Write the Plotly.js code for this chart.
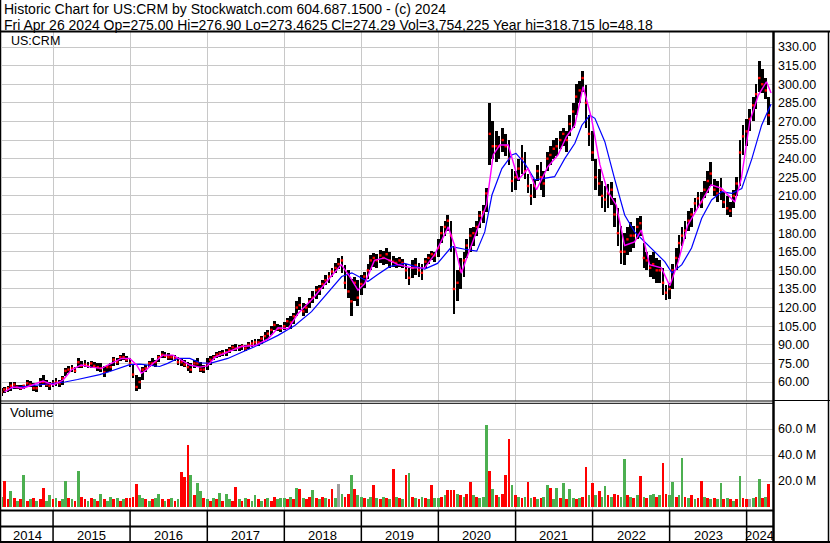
<!DOCTYPE html>
<html><head><meta charset="utf-8">
<script src="https://cdn.plot.ly/plotly-3.0.1.min.js"></script>
<style>html,body{margin:0;padding:0;background:#fff;}#chart{width:830px;height:543px;}</style>
</head><body><div id="chart"></div>
<script>
// ---- DATA ----
const dates = [
"2014-05-01","2014-05-15","2014-06-01","2014-06-15","2014-07-01","2014-07-15","2014-08-01","2014-08-15","2014-09-01","2014-09-15","2014-10-01","2014-10-15","2014-11-01","2014-11-15","2014-12-01","2014-12-15",
"2015-01-01","2015-01-15","2015-02-01","2015-02-15","2015-03-01","2015-03-15","2015-04-01","2015-04-15","2015-05-01","2015-05-15","2015-06-01","2015-06-15","2015-07-01","2015-07-15","2015-08-01","2015-08-15","2015-09-01","2015-09-15","2015-10-01","2015-10-15","2015-11-01","2015-11-15","2015-12-01","2015-12-15",
"2016-01-01","2016-01-15","2016-02-01","2016-02-15","2016-03-01","2016-03-15","2016-04-01","2016-04-15","2016-05-01","2016-05-15","2016-06-01","2016-06-15","2016-07-01","2016-07-15","2016-08-01","2016-08-15","2016-09-01","2016-09-15","2016-10-01","2016-10-15","2016-11-01","2016-11-15","2016-12-01","2016-12-15",
"2017-01-01","2017-01-15","2017-02-01","2017-02-15","2017-03-01","2017-03-15","2017-04-01","2017-04-15","2017-05-01","2017-05-15","2017-06-01","2017-06-15","2017-07-01","2017-07-15","2017-08-01","2017-08-15","2017-09-01","2017-09-15","2017-10-01","2017-10-15","2017-11-01","2017-11-15","2017-12-01","2017-12-15",
"2018-01-01","2018-01-15","2018-02-01","2018-02-15","2018-03-01","2018-03-15","2018-04-01","2018-04-15","2018-05-01","2018-05-15","2018-06-01","2018-06-15","2018-07-01","2018-07-15","2018-08-01","2018-08-15","2018-09-01","2018-09-15","2018-10-01","2018-10-15","2018-11-01","2018-11-15","2018-12-01","2018-12-15",
"2019-01-01","2019-01-15","2019-02-01","2019-02-15","2019-03-01","2019-03-15","2019-04-01","2019-04-15","2019-05-01","2019-05-15","2019-06-01","2019-06-15","2019-07-01","2019-07-15","2019-08-01","2019-08-15","2019-09-01","2019-09-15","2019-10-01","2019-10-15","2019-11-01","2019-11-15","2019-12-01","2019-12-15",
"2020-01-01","2020-01-15","2020-02-01","2020-02-15","2020-03-01","2020-03-15","2020-04-01","2020-04-15","2020-05-01","2020-05-15","2020-06-01","2020-06-15","2020-07-01","2020-07-15","2020-08-01","2020-08-15","2020-09-01","2020-09-15","2020-10-01","2020-10-15","2020-11-01","2020-11-15","2020-12-01","2020-12-15",
"2021-01-01","2021-01-15","2021-02-01","2021-02-15","2021-03-01","2021-03-15","2021-04-01","2021-04-15","2021-05-01","2021-05-15","2021-06-01","2021-06-15","2021-07-01","2021-07-15","2021-08-01","2021-08-15","2021-09-01","2021-09-15","2021-10-01","2021-10-15","2021-11-01","2021-11-15","2021-12-01","2021-12-15",
"2022-01-01","2022-01-15","2022-02-01","2022-02-15","2022-03-01","2022-03-15","2022-04-01","2022-04-15","2022-05-01","2022-05-15","2022-06-01","2022-06-15","2022-07-01","2022-07-15","2022-08-01","2022-08-15","2022-09-01","2022-09-15","2022-10-01","2022-10-15","2022-11-01","2022-11-15","2022-12-01","2022-12-15",
"2023-01-01","2023-01-15","2023-02-01","2023-02-15","2023-03-01","2023-03-15","2023-04-01","2023-04-15","2023-05-01","2023-05-15","2023-06-01","2023-06-15","2023-07-01","2023-07-15","2023-08-01","2023-08-15","2023-09-01","2023-09-15","2023-10-01","2023-10-15","2023-11-01","2023-11-15","2023-12-01","2023-12-15",
"2024-01-01","2024-01-15","2024-02-01","2024-02-15","2024-03-01","2024-03-15","2024-04-01","2024-04-15"
];
const high = [
55,56,57,60,60,58,57.5,58,62,61,59,57,63,65.5,62,60,
62,63,62,65,71,73,73.7,72,79,77,77.7,76,77,76,75.6,75,73,74,75,80,79,82,83.5,81,
79,74,66,64,72,74,77,79,78,82,85,84,83.5,82,82,80,79,78,76,75,78,79,76,74,
79,81,82,84,85,86,86.4,88,90,90.4,90,91,90,92,94,94.5,95,97,100,102,105,109,107,106,
108,112,113,116,125,128.7,124,123,128,133,137,138,142,146,148.6,152,156,160,161.8,154,150,143,145,142,
146,149,155,162,164,163,166.6,166,168,165,161.5,160,161,159,155,152,158,160,156,155,160,163,166,165,
175,186,190,195,190,170,150,160,165,175,184,185,190,198,203,216,285,270,262,258,265,260,255,232,
230,240,251,245,228,220,224,235,237,230,245,250,255,257,262,265,262,275,285,300,303,311,299,275,
262,240,232,222,218,220,221,208,200,186,180,185,189,186,192,194,172,165,162,165,160,158,152,138,
140,155,168,178.5,185,190,198,200,208,213,213.5,222,230,237.5,224,222,224.5,213.5,210,205,215,225,255,267,
272,280,290,300,318.7,312,305,290
];
const low = [
49,51,52,53,54,54,53.5,54,56,56,53,52,56,58,56,53.5,
56,57,56,58,65,67,68,67,71,71,72,71,71.5,71,69,68,64.3,68,69,73,74,77,78,76,
72,63,53,54,62,68,72,73,72.5,76,79,79,78,77.7,77,74,73,72,69,67,71,72,68,67,
70,74,78,79,80,81,81,83,85,85,85,86,85,87,88,89,89,91,94,95,98,102,101,100,
102,104,103,107,113,118,113,116,120,124,127,130,135,138,140,145,148,151,148,135,128,113.5,125,121,
130,136,143,150,153,152,156,154,155,152,153,152,153,152,143,138,144,146,145,142,152,155,158,157,
161,172,178,182,165,115,125,135,145,160,165,170,178,184,188,197,235,240,237,240,245,242,235,213,
215,222,228,224,212,203,208,222,215,209,230,235,240,242,248,250,245,258,265,275,285,294,265,250,
238,215,210,200,197,200,203,185,170,155,154,162,165,168,175,178,152,150,145,143,140,140,130,126.5,
127,135,150,160,170,175,182,185,197,200,200,208,212,218,210,205,207,200,195,193.3,200,210,218,243,
250,262,270,280,294,293,288,267
];
const close = [
52,54,55,57,58,56,55,57,59,58,55,55,60,60,58,57,
59,60,59,63,69,70,71,69,76,73,74,73,75,73,72,71,68,72,72,78,76,80,80,78,
75,66,56,60,70,71,75,75,76,80,82,81,80,80,79,76,76,74,72,70,75,75,70,70,
75,78,80,82,83,83,84,86,88,87,88,89,87,90,91,92,92,95,97,99,102,106,103,103,
105,109,108,113,120,122,117,120,125,128,134,135,139,142,145,149,152,155,158,140,133,125,140,128,
139,145,150,158,160,158,162,160,163,158,157,156,158,156,150,144,152,154,150,148,157,160,163,162,
168,180,185,190,178,135,140,150,158,170,178,180,185,194,197,212,260,250,250,250,255,250,240,222,
225,232,240,230,218,210,218,230,225,220,240,243,248,250,255,260,255,268,278,290,295,305,285,260,
245,225,220,210,207,212,215,195,180,165,165,175,178,178,185,188,160,158,152,155,150,150,140,132,
135,150,160,172,178,182,190,195,204,208,205,215,222,228,215,212,215,205,200,198,210,220,245,258,
262,272,283,292,305,300,295,275
];
// volume in millions
const volume = [
8,19.8,6,12.3,7,5,6,24.5,5,6,7,5,6,14.7,5,9,
6,7,5,6,19.8,7,6,5,27.5,8,6,5,7,6,5,10,6,5,8,6,7,5,6,7,
7,8,18,9,7,6,5,6,7,10,6,5,6,7,5,6,27,23,48,24.5,9,18.8,12,7,
6,5,7,6,11,5,10,6,5,15.5,6,5,7,6,5,9,6,5,6,7,5,8,6,7,
7,6,8,6,14.3,13.5,7,6,8,13,7,6,8,7,6,13.7,7,17.5,9.7,8,10,25,13.7,9,
8,7,6,8,16.8,7,6,8,7,6,29,8,7,6,25,26,8,7,6,8,7,6,16.8,7,
7,8,9,13,13,13,10,9,8,10,19.3,9,8,7,8,63,27.5,14,9,8,10,25,52,17,
9,8,7,8,19.5,7,8,6,7,8,16.8,14.7,6,14.7,7,18.5,6,14,7,6,7,8,30.8,9,
18.5,9,12,8,16,9,8,10,9,8,36.9,9,8,7,9,23.7,8,7,9,10,8,9,33.8,10,
9,19.3,8,9,37.4,8,7,9,6,7,19.8,8,7,6,7,6,18.5,6,7,6,5,6,23.7,7,
6,6,7,8,21.6,7,8,17.6
];
// g = up day (green), r = down day (red), k = unchanged (grey)
const volDir = ("grrgrgrgrgrgrrgg" + "rgrggrgrgrrgrgrgrggrgrgr" + "rrrggrgrggrgrgrgrrrgrggr" +
  "grgrgrggrrgrgrggrgrgrrgg" + "grgrgrgrrgrgrgrrgkgrrgrg" + "grggrgrgrgrgrgrgrgrgrgrg" +
  "grgrrrgrgrrgrgggrgrgrrrg" + "rgrgrgrgrggrggrgrggrgrrg" + "rgrggrgrrggrgrgrgrggrgrr" +
  "ggrggrgrgrrgrgrggrgrgrgr" + "rkgrgrgr").split("");
// short moving average (magenta)
const fastDates = ["2014-05-16","2014-06-25","2014-08-12","2014-09-28","2014-11-15","2015-01-02","2015-02-18","2015-03-28","2015-05-14","2015-07-01","2015-08-18","2015-10-04","2015-11-21","2015-12-30","2016-02-01","2016-02-24","2016-03-17","2016-04-18","2016-06-05","2016-07-22","2016-09-01","2016-10-10","2016-11-27","2017-01-01","2017-02-07","2017-04-09","2017-06-12","2017-08-14","2017-10-16","2017-12-03","2018-01-19","2018-03-06","2018-04-07","2018-05-24","2018-07-26","2018-09-28","2018-11-07","2018-12-16","2019-01-17","2019-03-04","2019-04-20","2019-06-23","2019-08-26","2019-10-28","2019-12-14","2020-02-17","2020-03-18","2020-04-19","2020-05-20","2020-07-07","2020-08-16","2020-09-17","2020-10-18","2020-11-27","2021-01-14","2021-03-01","2021-04-10","2021-06-03","2021-07-21","2021-08-30","2021-10-09","2021-11-17","2021-12-27","2022-02-05","2022-03-14","2022-04-23","2022-06-02","2022-07-19","2022-08-20","2022-09-28","2022-11-23","2023-01-02","2023-02-11","2023-03-28","2023-05-15","2023-07-17","2023-09-04","2023-11-06","2023-12-07","2024-01-16","2024-02-25","2024-04-04","2024-04-26"];
const fastMA = [52,56,55,57.6,60.8,57.6,61.6,69.7,73.7,72,71,75,79,79,73.7,67,69.7,75,81.7,81.7,77.7,73.7,72,73,80,84,88.6,89.4,94.8,103.7,103,115,120.7,128.7,142,154.6,145,134,139.4,158,160,154.6,152,152,162.6,185,170,147.7,162.6,183.8,202.7,243,251,251,223,232,215,233.5,243,257.7,267,298,272.5,235,213.4,202.7,170,173,182.5,154.6,152,137.5,157,186.5,201,219,216,205,224,270,291,302,293];
// long moving average (blue)
const slowDates = ["2014-06-10","2014-08-20","2014-10-30","2015-01-01","2015-02-26","2015-04-27","2015-06-23","2015-08-10","2015-09-27","2015-11-13","2015-12-30","2016-02-16","2016-04-03","2016-05-20","2016-06-27","2016-08-14","2016-10-10","2016-11-27","2017-01-14","2017-04-08","2017-06-27","2017-09-16","2017-12-02","2018-02-20","2018-05-10","2018-07-25","2018-09-30","2018-11-17","2019-01-03","2019-02-01","2019-03-18","2019-05-14","2019-07-24","2019-10-28","2019-12-28","2020-03-04","2020-05-05","2020-07-01","2020-08-08","2020-09-11","2020-10-28","2020-12-14","2021-01-03","2021-02-14","2021-04-02","2021-05-18","2021-07-05","2021-08-22","2021-10-09","2021-11-11","2021-12-19","2022-01-12","2022-02-28","2022-04-15","2022-06-02","2022-07-19","2022-09-05","2022-10-22","2022-12-09","2023-01-12","2023-02-28","2023-04-15","2023-06-02","2023-07-19","2023-09-05","2023-10-22","2023-12-09","2024-01-26","2024-03-12","2024-04-26"];
const slowMA = [55,56.5,57.5,59,60,62,64,66,68.5,71,74,74.5,73.5,72.5,75,79,79,75.5,75,79,85,91,97.6,105.6,116.7,131.5,145,148,144,141,146.5,153,155.6,151,155.6,169,167,165.5,181,210.7,232,243,244.3,236,223,224,225.5,240,252.4,267,275,272.5,253.7,224,194.6,181,173,165,157,148,154.6,168,192,206.7,213.5,212,216,240,267,284];
const priceTicks = [60,75,90,105,120,135,150,165,180,195,210,225,240,255,270,285,300,315,330];
const volTicks = [20,40,60];
const volTickText = ["20.0 M","40.0 M","60.0 M"];
const years = [2014,2015,2016,2017,2018,2019,2020,2021,2022,2023,2024];
const headerLine1 = "Historic Chart for US:CRM by Stockwatch.com 604.687.1500 - (c) 2024";
const headerLine2 = "Fri Apr 26 2024 Op=275.00 Hi=276.90 Lo=273.4625 Cl=274.29 Vol=3,754,225 Year hi=318.715 lo=48.18";

// ---- LAYOUT HELPERS ----
const W = 830, H = 543;
const px = p => p / W;
const py = p => 1 - p / H;
const xStart = "2014-05-04", xEnd = "2024-05-05";
const DAY = 864e5;
const FONT = "Liberation Sans, Arial, sans-serif";
const colorMap = {g: "#4caf50", r: "#ff0000", k: "#a0a0a0"};

const traces = [
  {type: "bar", x: dates, y: high.map((h, i) => h - low[i]), base: low, width: 13 * DAY,
   marker: {color: "#000000", line: {width: 0}}, xaxis: "x", yaxis: "y", hoverinfo: "skip"},
  {type: "scatter", mode: "markers", x: dates, y: close, xaxis: "x", yaxis: "y",
   marker: {symbol: "square", size: 2.4, color: "#ff0000", line: {width: 0}}, hoverinfo: "skip"},
  {type: "scatter", mode: "lines", x: slowDates, y: slowMA, xaxis: "x", yaxis: "y",
   line: {color: "#0000ff", width: 1.2}, hoverinfo: "skip"},
  {type: "scatter", mode: "lines", x: fastDates, y: fastMA, xaxis: "x", yaxis: "y",
   line: {color: "#ff00ff", width: 1.4}, hoverinfo: "skip"},
  {type: "bar", x: dates, y: volume, width: 13 * DAY, xaxis: "x2", yaxis: "y2",
   marker: {color: volDir.map(c => colorMap[c]), line: {width: 0}}, hoverinfo: "skip"}
];

const xCommon = {type: "date", range: [xStart, xEnd], domain: [px(2), px(773)],
  showgrid: true, gridcolor: "#c8c8c8", gridwidth: 1, tick0: "2014-01-01", dtick: "M12",
  showticklabels: false, ticks: "", zeroline: false, showline: false, fixedrange: true};

const shapes = [];
function hline(y, x0, x1, w) { shapes.push({type: "line", xref: "paper", yref: "paper", x0: px(x0), x1: px(x1), y0: py(y), y1: py(y), line: {color: "#000", width: w}}); }
function vline(x, y0, y1, w) { shapes.push({type: "line", xref: "paper", yref: "paper", x0: px(x), x1: px(x), y0: py(y0), y1: py(y1), line: {color: "#000", width: w}}); }
hline(31.5, 0, 830, 2);
vline(773.5, 31, 543, 2.5);
hline(401, 0, 773, 1);
hline(403.3, 0, 773, 1);
hline(400.5, 773, 830, 1);
hline(510.5, 0, 773, 2);
hline(526.5, 0, 773, 2);
hline(542, 0, 830, 2);
vline(0.5, 0, 543, 1.5);
vline(828.5, 31, 543, 1.5);
years.slice(1).forEach(y => {
  shapes.push({type: "line", xref: "x", yref: "paper", x0: y + "-01-01", x1: y + "-01-01",
    y0: py(510), y1: py(542), line: {color: "#000", width: 1.5}});
});

const annotations = [
  {text: headerLine1, xref: "paper", yref: "paper", x: px(2), y: py(8.5), xanchor: "left", yanchor: "middle", showarrow: false, font: {size: 14, color: "#000", family: FONT}},
  {text: headerLine2, xref: "paper", yref: "paper", x: px(2), y: py(24.5), xanchor: "left", yanchor: "middle", showarrow: false, font: {size: 14, color: "#000", family: FONT}},
  {text: "US:CRM", xref: "paper", yref: "paper", x: px(8.5), y: py(41.5), xanchor: "left", yanchor: "middle", showarrow: false, font: {size: 12.5, color: "#000", family: FONT}},
  {text: "Volume", xref: "paper", yref: "paper", x: px(8), y: py(413), xanchor: "left", yanchor: "middle", showarrow: false, font: {size: 13, color: "#000", family: FONT}}
];
const t0 = Date.parse(xStart), t1 = Date.parse(xEnd);
years.forEach(y => {
  const a = Math.max(Date.UTC(y, 0, 1), t0), b = Math.min(Date.UTC(y + 1, 0, 1), t1);
  annotations.push({text: String(y), xref: "x", yref: "paper", x: new Date((a + b) / 2).toISOString().slice(0, 10),
    y: py(535), xanchor: "center", yanchor: "middle", showarrow: false, font: {size: 13, color: "#000", family: FONT}});
});

const layout = {
  width: W, height: H, autosize: false,
  margin: {l: 0, r: 0, t: 0, b: 0, pad: 0},
  paper_bgcolor: "#ffffff", plot_bgcolor: "#ffffff",
  showlegend: false, bargap: 0,
  font: {family: FONT, size: 12.5, color: "#000"},
  xaxis: Object.assign({}, xCommon, {anchor: "y"}),
  xaxis2: Object.assign({}, xCommon, {anchor: "y2", matches: "x"}),
  yaxis: {domain: [py(401), py(32)], range: [44.7, 342.1], side: "right", anchor: "x",
    tickvals: priceTicks, ticktext: priceTicks.map(v => v.toFixed(2)), showgrid: true,
    gridcolor: "#c8c8c8", gridwidth: 1, zeroline: false, showline: false, ticks: "",
    ticklabelstandoff: 4, tickfont: {size: 12.5, color: "#000", family: FONT}, fixedrange: true},
  yaxis2: {domain: [py(510), py(403)], range: [-2.3, 80], side: "right", anchor: "x2",
    tickvals: volTicks, ticktext: volTickText, showgrid: true, gridcolor: "#c8c8c8", gridwidth: 1,
    zeroline: false, showline: false, ticks: "", ticklabelstandoff: 4,
    tickfont: {size: 12.5, color: "#000", family: FONT}, fixedrange: true},
  shapes: shapes,
  annotations: annotations
};
Plotly.newPlot("chart", traces, layout, {staticPlot: true, displayModeBar: false});
</script></body></html>
